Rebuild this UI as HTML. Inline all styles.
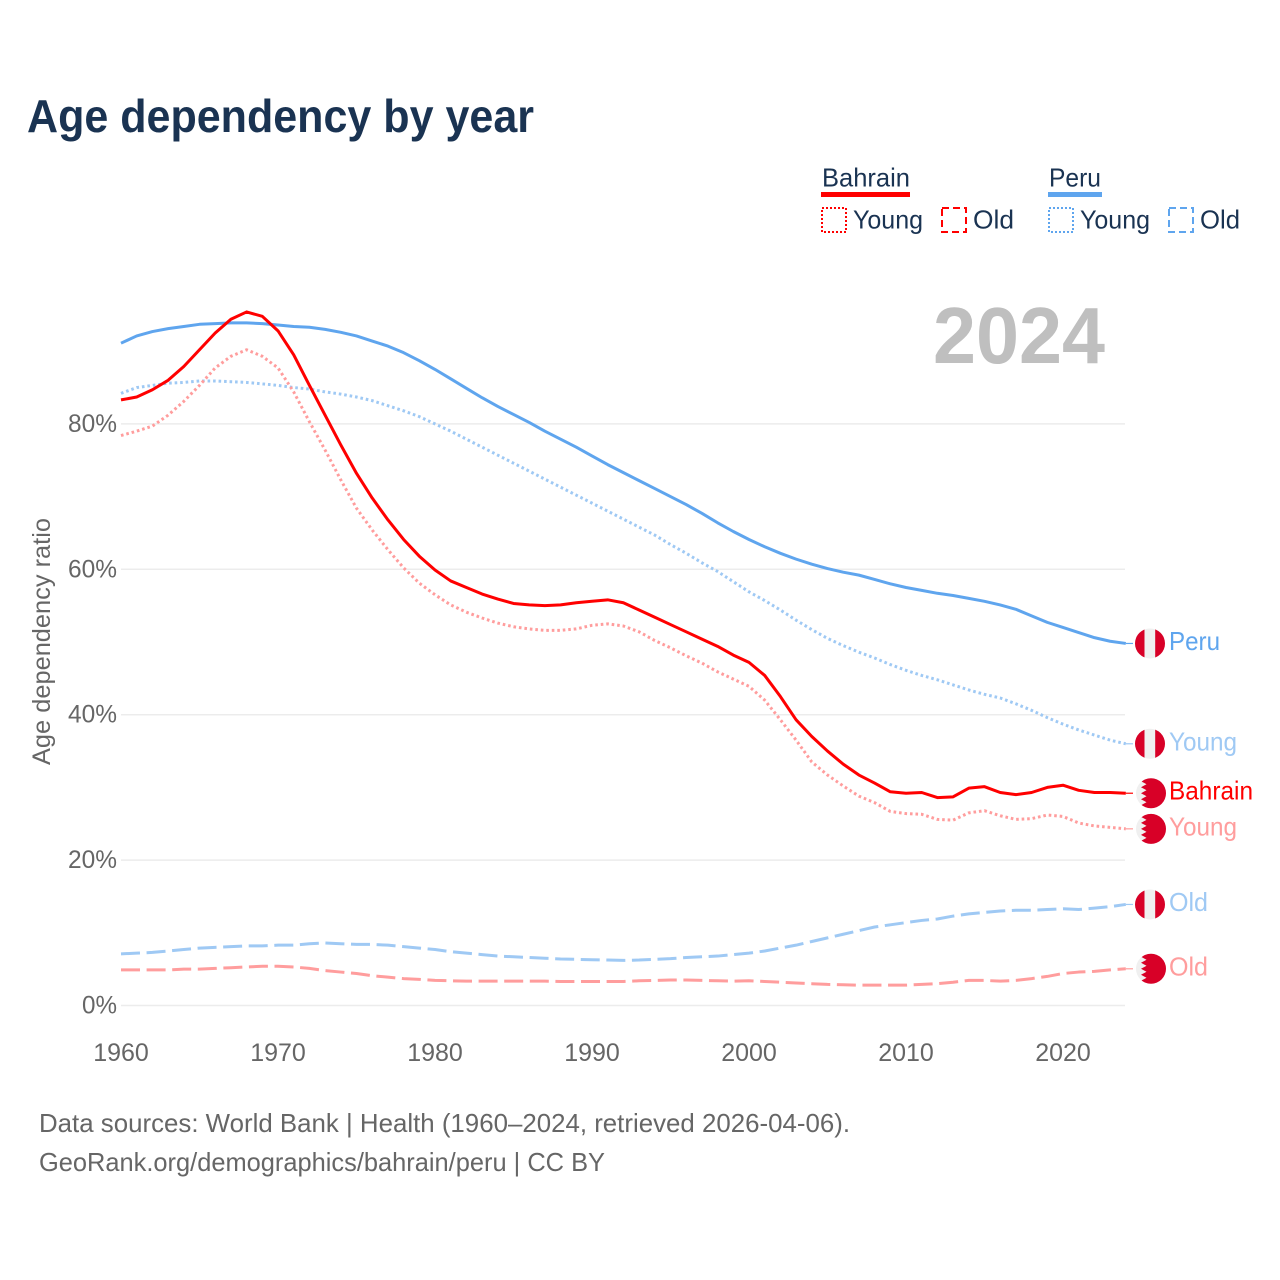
<!DOCTYPE html>
<html lang="en">
<head>
<meta charset="utf-8">
<title>Age dependency by year</title>
<style>
html,body{margin:0;padding:0;background:#fff;}
svg{display:block;font-family:"Liberation Sans",sans-serif;}
</style>
</head>
<body>
<svg id="chart" xmlns="http://www.w3.org/2000/svg" width="1280" height="1280" viewBox="0 0 1280 1280">
  <rect width="1280" height="1280" fill="#fff"/>
  <text x="27" y="132" font-size="46" font-weight="700" fill="#1a3352" textLength="507" lengthAdjust="spacingAndGlyphs">Age dependency by year</text>

  <g font-size="26" fill="#1a3352">
    <text x="822" y="186.5" textLength="88" lengthAdjust="spacingAndGlyphs">Bahrain</text>
    <rect x="821" y="192" width="89" height="5" fill="#ff0000"/>
    <rect x="822" y="208" width="24" height="24" fill="none" stroke="#ff0000" stroke-width="2" stroke-dasharray="2 2"/>
    <text x="853" y="228.5" textLength="70" lengthAdjust="spacingAndGlyphs">Young</text>
    <rect x="942" y="208" width="24" height="24" fill="none" stroke="#ff0000" stroke-width="2" stroke-dasharray="7 4"/>
    <text x="973" y="228.5" textLength="41" lengthAdjust="spacingAndGlyphs">Old</text>
    <text x="1049" y="186.5" textLength="52" lengthAdjust="spacingAndGlyphs">Peru</text>
    <rect x="1048" y="192" width="54" height="5" fill="#5fa5ee"/>
    <rect x="1049" y="208" width="24" height="24" fill="none" stroke="#5fa5ee" stroke-width="2" stroke-dasharray="2 2"/>
    <text x="1080" y="228.5" textLength="70" lengthAdjust="spacingAndGlyphs">Young</text>
    <rect x="1169" y="208" width="24" height="24" fill="none" stroke="#5fa5ee" stroke-width="2" stroke-dasharray="7 4"/>
    <text x="1200" y="228.5" textLength="40" lengthAdjust="spacingAndGlyphs">Old</text>
  </g>

  <text x="933" y="363" font-size="80" font-weight="700" fill="#bfbfbf" textLength="172" lengthAdjust="spacingAndGlyphs">2024</text>
  <text transform="translate(50,765) rotate(-90)" font-size="25" fill="#666" textLength="247" lengthAdjust="spacingAndGlyphs">Age dependency ratio</text>

  <g id="grid"></g>
  <g id="yticks"></g>
  <g id="xticks"></g>
  <g id="lines"></g>
  <g id="ends"></g>

  <text x="39" y="1132" font-size="26" fill="#666" textLength="811" lengthAdjust="spacingAndGlyphs">Data sources: World Bank | Health (1960–2024, retrieved 2026-04-06).</text>
  <text x="39" y="1171" font-size="26" fill="#666" textLength="566" lengthAdjust="spacingAndGlyphs">GeoRank.org/demographics/bahrain/peru | CC BY</text>
</svg>

<script>
const years = [1960,1961,1962,1963,1964,1965,1966,1967,1968,1969,
  1970,1971,1972,1973,1974,1975,1976,1977,1978,1979,
  1980,1981,1982,1983,1984,1985,1986,1987,1988,1989,
  1990,1991,1992,1993,1994,1995,1996,1997,1998,1999,
  2000,2001,2002,2003,2004,2005,2006,2007,2008,2009,
  2010,2011,2012,2013,2014,2015,2016,2017,2018,2019,
  2020,2021,2022,2023,2024];

const peruTotal = [91.1,92.1,92.7,93.1,93.4,93.7,93.8,93.9,93.9,93.8,
  93.6,93.4,93.3,93.0,92.6,92.1,91.4,90.7,89.8,88.7,
  87.5,86.2,84.9,83.6,82.4,81.3,80.2,79.0,77.9,76.8,
  75.6,74.4,73.3,72.2,71.1,70.0,68.9,67.7,66.4,65.2,
  64.1,63.1,62.2,61.4,60.7,60.1,59.6,59.2,58.6,58.0,
  57.5,57.1,56.7,56.4,56.0,55.6,55.1,54.5,53.6,52.7,
  52.0,51.3,50.6,50.1,49.8];

const peruYoung = [84.2,85.0,85.3,85.6,85.7,85.9,85.9,85.8,85.7,85.5,
  85.3,85.0,84.8,84.4,84.1,83.7,83.2,82.5,81.8,81.0,
  80.0,79.0,77.9,76.8,75.7,74.6,73.5,72.4,71.3,70.2,
  69.1,68.0,66.9,65.8,64.7,63.4,62.2,60.9,59.7,58.3,
  56.9,55.7,54.4,53.0,51.7,50.5,49.5,48.6,47.8,46.9,
  46.1,45.4,44.8,44.1,43.4,42.8,42.3,41.5,40.6,39.6,
  38.7,37.9,37.2,36.5,36.0];

const peruOld = [7.1,7.2,7.3,7.5,7.7,7.9,8.0,8.1,8.2,8.2,
  8.3,8.3,8.5,8.6,8.5,8.4,8.4,8.3,8.1,7.9,
  7.7,7.4,7.2,7.0,6.8,6.7,6.6,6.5,6.4,6.35,
  6.3,6.25,6.2,6.25,6.35,6.45,6.6,6.7,6.8,7.0,
  7.2,7.5,7.9,8.3,8.8,9.3,9.8,10.3,10.8,11.1,
  11.4,11.7,11.9,12.3,12.6,12.8,13.0,13.1,13.1,13.2,
  13.3,13.2,13.4,13.6,13.9];

const bahrainTotal = [83.3,83.7,84.7,86.0,87.9,90.2,92.5,94.4,95.4,94.8,
  92.8,89.5,85.3,81.2,77.1,73.2,69.8,66.8,64.1,61.8,
  59.9,58.4,57.5,56.6,55.9,55.3,55.1,55.0,55.1,55.4,
  55.6,55.8,55.4,54.4,53.4,52.4,51.4,50.4,49.4,48.2,
  47.2,45.4,42.5,39.3,37.0,35.0,33.2,31.7,30.6,29.4,
  29.2,29.3,28.6,28.7,29.9,30.1,29.3,29.0,29.3,30.0,
  30.3,29.6,29.3,29.3,29.2];

const bahrainYoung = [78.4,79.0,79.7,81.2,83.1,85.3,87.7,89.3,90.2,89.3,
  87.7,84.4,80.3,76.4,72.3,68.4,65.4,62.7,60.2,58.1,
  56.5,55.1,54.1,53.3,52.6,52.1,51.8,51.6,51.6,51.8,
  52.3,52.5,52.2,51.4,50.2,49.2,48.1,47.1,45.9,44.9,
  43.9,42.0,39.3,36.5,33.5,31.7,30.2,28.8,27.9,26.7,
  26.4,26.3,25.6,25.5,26.5,26.8,26.1,25.6,25.7,26.2,
  26.0,25.1,24.7,24.5,24.3];

const bahrainOld = [4.9,4.9,4.9,4.9,5.0,5.0,5.1,5.2,5.3,5.4,
  5.4,5.3,5.1,4.8,4.6,4.4,4.1,3.9,3.7,3.6,
  3.45,3.4,3.35,3.35,3.35,3.35,3.35,3.35,3.3,3.3,
  3.3,3.3,3.3,3.4,3.45,3.5,3.5,3.45,3.4,3.35,
  3.4,3.3,3.2,3.1,3.0,2.9,2.85,2.8,2.8,2.8,
  2.8,2.9,3.0,3.2,3.45,3.45,3.35,3.45,3.7,4.0,
  4.4,4.6,4.7,4.9,5.05];

const yTickValues = [0,20,40,60,80];
const xTickValues = [1960,1970,1980,1990,2000,2010,2020];

const NS = 'http://www.w3.org/2000/svg';
function xScale(year){ return 121 + (year - 1960) * (1004.8 / 64); }
function yScale(value){ return 1005.5 - value * 7.27; }
function make(tag, attrs, parent){
  const el = document.createElementNS(NS, tag);
  for (const k in attrs) el.setAttribute(k, attrs[k]);
  parent.appendChild(el);
  return el;
}

const grid = document.getElementById('grid');
const yticks = document.getElementById('yticks');
yTickValues.forEach(function(v){
  const g = make('line', {x1:121, x2:1125, y1:yScale(v), y2:yScale(v), stroke:'#ececec', 'stroke-width':1.5}, grid);
  
  
  const t = make('text', {x:117, y:yScale(v)+8, 'font-size':25, fill:'#666', 'text-anchor':'end', textLength:49, lengthAdjust:'spacingAndGlyphs'}, yticks);
  if (v === 0) t.setAttribute('textLength', 35);
  
  
  t.textContent = v + '%';
});

const xticks = document.getElementById('xticks');
xTickValues.forEach(function(y){
  const t = make('text', {x:xScale(y), y:1061, 'font-size':25, fill:'#666', 'text-anchor':'middle'}, xticks);
  
  
  t.textContent = y;
});

const lines = document.getElementById('lines');
function drawLine(values, color, dash, name){
  let d = '';
  values.forEach(function(v, i){
    d += (i ? 'L' : 'M') + xScale(years[i]).toFixed(2) + ' ' + yScale(v).toFixed(2);
  });
  const p = make('path', {d:d, fill:'none', stroke:color, 'stroke-width':3, 'stroke-linejoin':'round'}, lines);
  if (dash) p.setAttribute('stroke-dasharray', dash);
  
  
}
const DOT = '2.6 2.9', DASH = '19 6.6';
drawLine(peruOld, '#9fc9f4', DASH, 'line-peru-old');
drawLine(bahrainOld, '#ff9d9d', DASH, 'line-bahrain-old');
drawLine(peruYoung, '#9fc9f4', DOT, 'line-peru-young');
drawLine(bahrainYoung, '#ff9d9d', DOT, 'line-bahrain-young');
drawLine(peruTotal, '#5fa5ee', null, 'line-peru-total');
drawLine(bahrainTotal, '#ff0000', null, 'line-bahrain-total');

const defs = make('defs', {}, document.getElementById('chart'));
const cp = make('clipPath', {id:'flag-clip'}, defs);
make('circle', {cx:0, cy:0, r:15}, cp);

function drawFlag(parent, country, cy, name){
  const g = make('g', {transform:'translate(' + (country === 'peru' ? 1150 : 1151) + ',' + cy + ')', 'clip-path':'url(#flag-clip)'}, parent);
  
  
  make('rect', {x:-16, y:-16, width:32, height:32, fill:'#f0f0f0'}, g);
  if (country === 'peru') {
    make('rect', {x:-16, y:-16, width:10.5, height:32, fill:'#d80027'}, g);
    make('rect', {x:5.2, y:-16, width:11, height:32, fill:'#d80027'}, g);
  } else {
    make('polygon', {points:'-5,-16 -5,-15 -10,-12 -4.5,-9 -10,-6 -4.5,-3 -10,0 -4.5,3 -10,6 -4.5,9 -10,12 -5,15 -5,16 16,16 16,-16', fill:'#d80027'}, g);
  }
}

const ends = document.getElementById('ends');
function drawEnd(values, country, color, lineColor, label, labelWidth, name){
  const last = values[values.length - 1];
  const y = yScale(last);
  const leader = make('line', {x1:xScale(2024), x2:1133, y1:y, y2:y, stroke:lineColor, 'stroke-width':1.2}, ends);
  
  
  drawFlag(ends, country, y, name + '-flag');
  const t = make('text', {x:1169, y:y+6.5, 'font-size':26, fill:color, textLength:labelWidth, lengthAdjust:'spacingAndGlyphs'}, ends);
  
  
  t.textContent = label;
}
drawEnd(peruTotal, 'peru', '#5fa5ee', '#5fa5ee', 'Peru', 51, 'end-peru-total');
drawEnd(peruYoung, 'peru', '#9fc9f4', '#9fc9f4', 'Young', 68, 'end-peru-young');
drawEnd(bahrainTotal, 'bahrain', '#ff0000', '#ff0000', 'Bahrain', 84, 'end-bahrain-total');
drawEnd(bahrainYoung, 'bahrain', '#ff9d9d', '#ff9d9d', 'Young', 68, 'end-bahrain-young');
drawEnd(peruOld, 'peru', '#9fc9f4', '#9fc9f4', 'Old', 39, 'end-peru-old');
drawEnd(bahrainOld, 'bahrain', '#ff9d9d', '#ff9d9d', 'Old', 39, 'end-bahrain-old');
</script>
</body>
</html>
